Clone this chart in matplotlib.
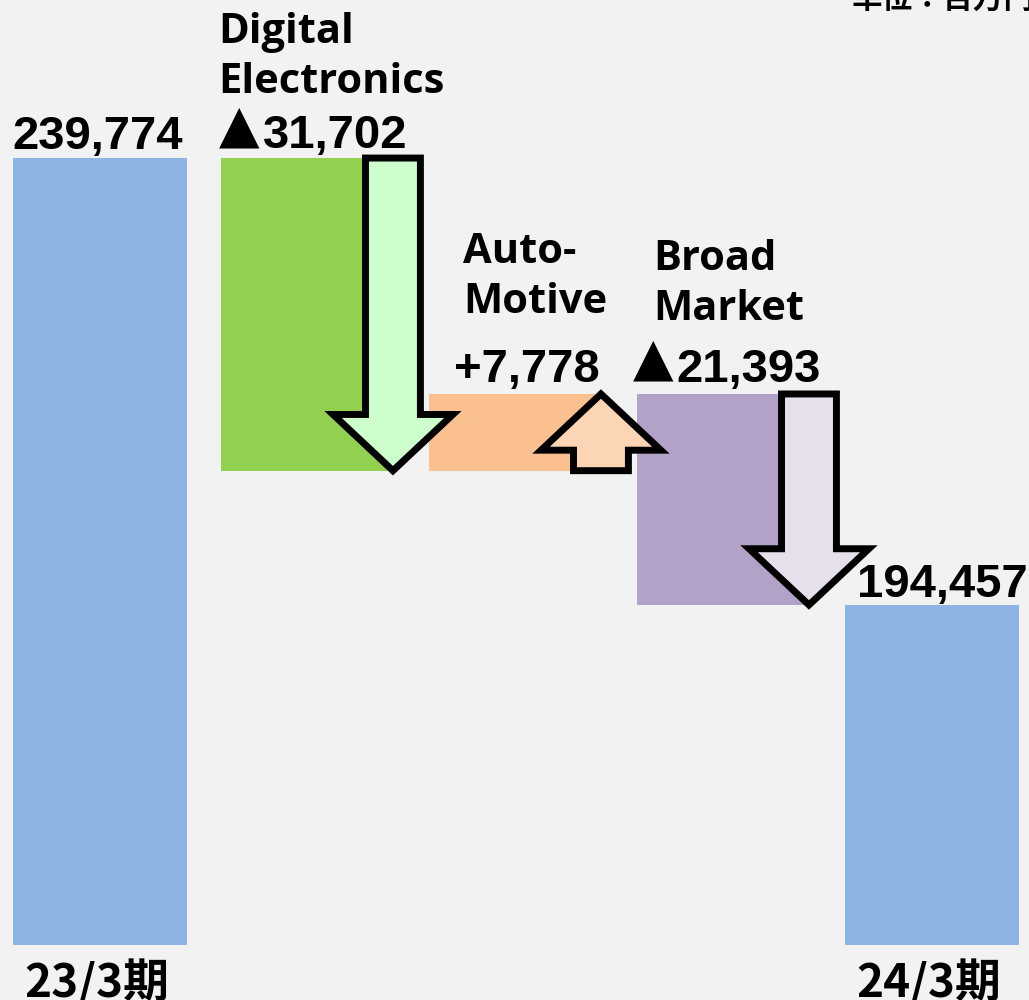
import numpy as np
import matplotlib.pyplot as plt
from matplotlib.patches import Polygon

# data
categories = ['23/3期', 'Digital\nElectronics', 'Auto-\nMotive', 'Broad\nMarket', '24/3期']
changes = [239774, -31702, 7778, -21393, 194457]
value_labels = ['239,774', '▲31,702', '+7,778', '▲21,393', '194,457']
bar_colors = ['#8eb4e3', '#92d050', '#fac090', '#b3a2c7', '#8eb4e3']
arrow_colors = [None, '#ccffcc', '#fcd5b5', '#e6e0ec', None]
unit_text = '単位：百万円'

base = 160000
PX = 0.72  # points per pixel at dpi 100

# waterfall bottoms / tops
bottoms, tops = [], []
running = 0
for i, v in enumerate(changes):
    if i == 0 or i == len(changes) - 1:
        bottoms.append(base)
        tops.append(v)
        running = v
    else:
        lo, hi = sorted([running, running + v])
        bottoms.append(lo)
        tops.append(hi)
        running += v

fig = plt.figure(figsize=(10.29, 10), dpi=100)
fig.patch.set_facecolor('#f2f2f2')
ax = fig.add_axes([0, 0, 1, 1])
ax.set_facecolor('#f2f2f2')
ax.set_xlim(-0.4808, 4.466)
ax.set_ylim(154400, 255800)
ax.axis('off')

x = np.arange(len(changes))
w = 0.8365
heights = np.array(tops) - np.array(bottoms)
ax.bar(x, heights, bottom=bottoms, width=w, color=bar_colors, zorder=1)

# block arrows on the right edge of each change bar
shaft = 0.132
head = 0.288
head_len = 5700
for i, v in enumerate(changes):
    if arrow_colors[i] is None:
        continue
    cx = x[i] + w / 2 - 0.01
    if v < 0:
        start, end = tops[i], bottoms[i]
        hb = end + head_len
    else:
        start, end = bottoms[i], tops[i]
        hb = end - head_len
    pts = [(cx - shaft, start), (cx + shaft, start), (cx + shaft, hb), (cx + head, hb),
           (cx, end), (cx - head, hb), (cx - shaft, hb)]
    ax.add_patch(Polygon(pts, closed=True, facecolor=arrow_colors[i], edgecolor='black',
                         linewidth=5, joinstyle='miter', zorder=3))

# value labels (dx, dy in pixels); the ▲ mark is drawn separately in a larger glyph
val_off = [(-2, 9), (27, 10), (11, 12), (25, 12), (10, 8)]
for i, lab in enumerate(value_labels):
    dx, dy = val_off[i]
    mark = lab.startswith('▲')
    t = ax.annotate(lab.lstrip('▲'), (x[i], tops[i]), xytext=(dx * PX, dy * PX),
                    textcoords='offset points', ha='center', va='baseline',
                    fontsize=34, fontweight='bold', family='Liberation Sans', zorder=4)
    if mark:
        ax.annotate('▲', (0, 0), xycoords=t, xytext=(-3 * PX, 6 * PX),
                    textcoords='offset points', ha='right', va='bottom',
                    fontsize=38, fontweight='bold', family='DejaVu Sans', zorder=4)

# category labels
cat_off = {1: (-3, 115), 2: (34, 131), 3: (16, 124)}
line_gap = 50
for i, name in enumerate(categories):
    if i in cat_off:
        dx, dy = cat_off[i]
        for j, line in enumerate(name.split('\n')):
            ax.annotate(line, (x[i] - w / 2, tops[i]),
                        xytext=(dx * PX, (dy - j * line_gap) * PX), textcoords='offset points',
                        ha='left', va='baseline', fontsize=30, fontweight='bold',
                        family='Open Sans', zorder=4)
    else:
        ax.annotate(name, (x[i], bottoms[i]), xytext=(-3 * PX, -53 * PX),
                    textcoords='offset points', ha='center', va='baseline',
                    fontsize=33, fontweight='bold',
                    family=['Noto Sans CJK JP', 'DejaVu Sans'], zorder=4)

fig.text(1.005, 0.992, unit_text, ha='right', va='baseline', fontsize=22,
         fontweight='bold', family=['Noto Sans CJK JP', 'DejaVu Sans'])

fig.savefig('out.png', dpi=100, facecolor=fig.get_facecolor())
